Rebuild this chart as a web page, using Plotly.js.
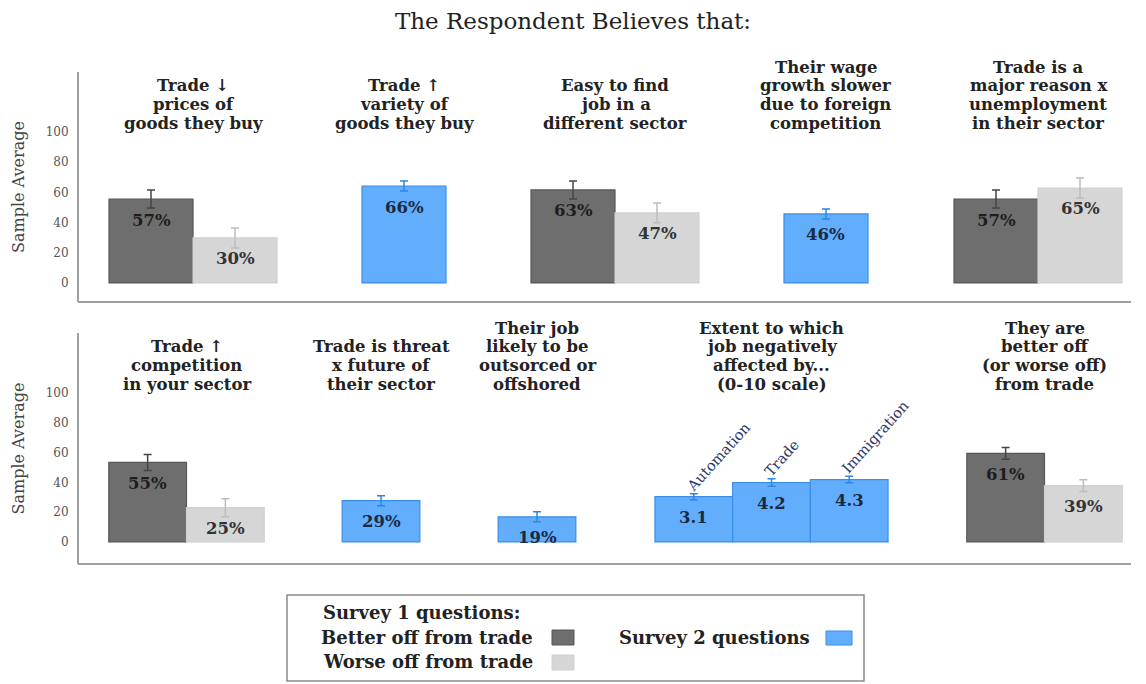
<!DOCTYPE html>
<html>
<head>
<meta charset="utf-8">
<script src="https://cdn.plot.ly/plotly-3.0.1.min.js"></script>
<style>html,body{margin:0;padding:0;background:#fff;}#chart{width:1146px;height:684px;}</style>
</head>
<body>
<div id="chart"></div>
<script>
// ---------------- DATA ----------------
const chartTitle = "The Respondent Believes that:";
const topTitles = [
  ["Trade ↓", "prices of", "goods they buy"],
  ["Trade ↑", "variety of", "goods they buy"],
  ["Easy to find", "job in a", "different sector"],
  ["Their wage", "growth slower", "due to foreign", "competition"],
  ["Trade is a", "major reason x", "unemployment", "in their sector"]
];
const bottomTitles = [
  ["Trade ↑", "competition", "in your sector"],
  ["Trade is threat", "x future of", "their sector"],
  ["Their job", "likely to be", "outsorced or", "offshored"],
  ["Extent to which", "job negatively", "affected by...", "(0-10 scale)"],
  ["They are", "better off", "(or worse off)", "from trade"]
];
const s1Categories = ["Better off from trade", "Worse off from trade"];
// Survey 1 panels (row, panel index)
const s1Panels = ["top1", "top3", "top5", "bot1", "bot5"];
const betterValues = [55.6, 61.6, 55.6, 53.4, 59.5];
const betterErrors = [6, 6, 6, 5.4, 4];
const betterLabels = ["57%", "63%", "57%", "55%", "61%"];
const worseValues = [29.8, 46.4, 62.9, 23.0, 37.8];
const worseErrors = [6.6, 6.6, 6.6, 6, 4];
const worseLabels = ["30%", "47%", "65%", "25%", "39%"];
// Survey 2 single-bar panels
const s2Category = "Survey 2 questions";
const s2Panels = ["top2", "top4", "bot2", "bot3"];
const s2Values = [64.2, 45.7, 27.7, 16.9];
const s2Errors = [3.3, 3.3, 3.4, 3.4];
const s2Labels = ["66%", "46%", "29%", "19%"];
// Extent panel (0-10 scale)
const extentPanel = "bot4";
const extentCategories = ["Automation", "Trade", "Immigration"];
const extentValues = [30.4, 39.9, 41.9];
const extentErrors = [2.0, 2.5, 2.2];
const extentLabels = ["3.1", "4.2", "4.3"];
const yTicks = [0, 20, 40, 60, 80, 100];
const yTitle = "Sample Average";
const legendTitle = "Survey 1 questions:";
const legendS2 = "Survey 2 questions";

// ---------------- LAYOUT / STYLE ----------------
const W = 1146, H = 684;
const px = p => p / W;
const py = p => 1 - p / H;
const SERIF = "DejaVu Serif, Liberation Serif, serif";
const COL = {
  dark: "#6e6e6e", darkLine: "#575757", darkErr: "#454545",
  light: "#d6d6d6", lightLine: "#d0d0d0", lightErr: "#bdbdbd",
  blue: "#63aefc", blueLine: "#3a8ee6", blueErr: "#2a86ea"
};
const rowsCfg = {
  top: {centers: [193, 404, 615, 826, 1038], unit: 84, dom: [72, 302], yaxis: "y", range: [-12.6, 139.7], lastLine: 123, axes: ["x", "x2", "x3", "x4", "x5"]},
  bot: {centers: [186.5, 381, 537, 771.5, 1044.5], unit: 77.7, dom: [333, 564], yaxis: "y2", range: [-14.8, 140.3], lastLine: 384, axes: ["x6", "x7", "x8", "x9", "x10"]}
};
const LINE_STEP = 18.6;
function panelInfo(key) {
  const row = key.slice(0, 3);
  const idx = parseInt(key.slice(3)) - 1;
  const cfg = rowsCfg[row];
  return {cfg, idx, xa: cfg.axes[idx], ya: cfg.yaxis};
}
const panelCats = {};
s1Panels.forEach(k => panelCats[k] = s1Categories);
s2Panels.forEach(k => panelCats[k] = [s2Category]);
panelCats[extentPanel] = extentCategories;

const layout = {
  width: W, height: H,
  margin: {l: 0, r: 0, t: 0, b: 0},
  paper_bgcolor: "#fff", plot_bgcolor: "rgba(0,0,0,0)",
  showlegend: false,
  barmode: "overlay", bargap: 0,
  font: {family: SERIF, color: "#222"},
  title: {text: chartTitle, font: {family: SERIF, size: 23, color: "#222"}, x: 0.5, xanchor: "center", y: py(21), yanchor: "middle"},
  annotations: [], shapes: []
};

// axes
["top", "bot"].forEach(r => {
  const cfg = rowsCfg[r];
  const yname = cfg.yaxis === "y" ? "yaxis" : "yaxis2";
  layout[yname] = {
    domain: [py(cfg.dom[1]), py(cfg.dom[0])], range: cfg.range,
    anchor: "free", position: px(78),
    showline: true, linecolor: "#a0a0a0", linewidth: 2,
    showgrid: false, zeroline: false,
    tickmode: "array", tickvals: yTicks, ticks: "", ticklabelstandoff: 6,
    tickfont: {family: SERIF, size: 12, color: "#555"}, fixedrange: true
  };
  layout.shapes.push({type: "line", xref: "paper", yref: cfg.yaxis + " domain", x0: px(78), x1: px(1131), y0: 0, y1: 0, line: {color: "#a0a0a0", width: 2}});
  layout.annotations.push({xref: "paper", yref: cfg.yaxis + " domain", x: px(18), y: 0.5, text: yTitle, textangle: -90, showarrow: false, xanchor: "center", yanchor: "middle", font: {family: SERIF, size: 16, color: "#444"}});
  const titles = r === "top" ? topTitles : bottomTitles;
  cfg.axes.forEach((xa, i) => {
    const key = r + (i + 1);
    const cats = panelCats[key];
    const n = cats.length;
    const half = n === 3 ? 125 : 100;
    const c = cfg.centers[i];
    const mid = (n - 1) / 2;
    const hu = half / cfg.unit;
    const name = xa === "x" ? "xaxis" : "xaxis" + xa.slice(1);
    layout[name] = {
      domain: [px(c - half), px(c + half)], range: [mid - hu, mid + hu],
      anchor: cfg.yaxis, type: "category", categoryorder: "array", categoryarray: cats,
      visible: false, fixedrange: true
    };
    const lines = titles[i];
    lines.forEach((ln, k) => {
      const yc = cfg.lastLine - (lines.length - 1 - k) * LINE_STEP;
      layout.annotations.push({xref: xa + " domain", yref: "paper", x: 0.5, y: py(yc), xanchor: "center", yanchor: "middle", text: "<b>" + ln + "</b>", showarrow: false, font: {family: SERIF, size: 16.5, color: "#222"}});
    });
  });
});

const traces = [];
function addBar(key, cats, vals, errs, labels, fill, line, errCol, txtCol) {
  const p = panelInfo(key);
  traces.push({
    type: "bar", x: cats, y: vals, xaxis: p.xa, yaxis: p.ya,
    marker: {color: fill, line: {color: line, width: 1.2}},
    error_y: {type: "data", array: errs, visible: true, color: errCol, thickness: 1.5, width: 4},
    hoverinfo: "skip"
  });
  cats.forEach((c, i) => {
    layout.annotations.push({xref: p.xa, yref: p.ya, x: c, y: vals[i], yshift: -21, text: "<b>" + labels[i] + "</b>", showarrow: false, xanchor: "center", yanchor: "middle", font: {family: SERIF, size: 16.5, color: txtCol}});
  });
}
s1Panels.forEach((k, i) => {
  addBar(k, [s1Categories[0]], [betterValues[i]], [betterErrors[i]], [betterLabels[i]], COL.dark, COL.darkLine, COL.darkErr, "#1e1e1e");
  addBar(k, [s1Categories[1]], [worseValues[i]], [worseErrors[i]], [worseLabels[i]], COL.light, COL.lightLine, COL.lightErr, "#333");
});
s2Panels.forEach((k, i) => {
  addBar(k, [s2Category], [s2Values[i]], [s2Errors[i]], [s2Labels[i]], COL.blue, COL.blueLine, COL.blueErr, "#1a2a44");
});
addBar(extentPanel, extentCategories, extentValues, extentErrors, extentLabels, COL.blue, COL.blueLine, COL.blueErr, "#1a2a44");
(function () {
  const p = panelInfo(extentPanel);
  extentCategories.forEach((c, i) => {
    layout.annotations.push({xref: p.xa, yref: p.ya, x: c, y: extentValues[i] + extentErrors[i], xshift: -13, yshift: -3, text: c, textangle: -48, showarrow: false, xanchor: "left", yanchor: "bottom", font: {family: SERIF, size: 14.5, color: "#2b3a6b"}});
  });
})();

// legend box
layout.shapes.push({type: "rect", xref: "paper", yref: "paper", x0: px(287), x1: px(864), y0: py(681), y1: py(595), line: {color: "#8a8a8a", width: 1.5}, fillcolor: "rgba(0,0,0,0)"});
const legendItems = [
  {text: s1Categories[0], right: 535, y: 637, sw: [552, 574, 630, 645], fill: COL.dark, line: COL.darkLine},
  {text: s1Categories[1], right: 535, y: 661, sw: [552, 574, 655, 670], fill: COL.light, line: COL.lightLine},
  {text: legendS2, right: 812, y: 637, sw: [826, 852, 631, 645], fill: COL.blue, line: COL.blueLine}
];
layout.annotations.push({xref: "paper", yref: "paper", x: px(321), y: py(612), xanchor: "left", yanchor: "middle", text: "<b>" + legendTitle + "</b>", showarrow: false, font: {family: SERIF, size: 18, color: "#222"}});
legendItems.forEach(it => {
  layout.annotations.push({xref: "paper", yref: "paper", x: px(it.right), y: py(it.y), xanchor: "right", yanchor: "middle", text: "<b>" + it.text + "</b>", showarrow: false, font: {family: SERIF, size: 18, color: "#222"}});
  layout.shapes.push({type: "rect", xref: "paper", yref: "paper", x0: px(it.sw[0]), x1: px(it.sw[1]), y0: py(it.sw[3]), y1: py(it.sw[2]), fillcolor: it.fill, line: {color: it.line, width: 1}});
});

Plotly.newPlot("chart", traces, layout, {displayModeBar: false, staticPlot: true});
</script>
</body>
</html>
